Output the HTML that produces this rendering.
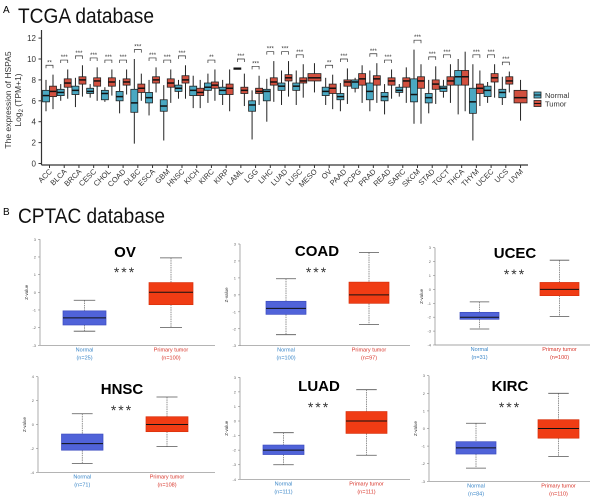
<!DOCTYPE html>
<html><head><meta charset="utf-8"><style>
html,body{margin:0;padding:0;background:#fff;}
svg{display:block;font-family:"Liberation Sans",sans-serif;}
</style></head><body>
<svg id="fig" width="610" height="499" viewBox="0 0 610 499">
<text x="3" y="13" font-size="10">A</text>
<text x="18" y="23" font-size="21" textLength="136" lengthAdjust="spacingAndGlyphs" fill="#111">TCGA database</text>
<text x="3" y="215" font-size="10">B</text>
<text x="18" y="223" font-size="21" textLength="147" lengthAdjust="spacingAndGlyphs" fill="#111">CPTAC database</text>
<g id="pa"></g>
<g id="pb"></g>
</svg>
<script>
// ===== Panel A data =====
const cats = ["ACC","BLCA","BRCA","CESC","CHOL","COAD","DLBC","ESCA","GBM","HNSC","KICH","KIRC","KIRP","LAML","LGG","LIHC","LUAD","LUSC","MESO","OV","PAAD","PCPG","PRAD","READ","SARC","SKCM","STAD","TGCT","THCA","THYM","UCEC","UCS","UVM"];
const nMed = [6.5,6.8,7.0,6.9,6.7,6.4,5.8,6.3,5.5,7.2,7.0,7.3,7.0,9.1,5.6,6.9,7.4,7.4,null,6.9,6.4,7.8,6.9,6.4,7.0,6.6,6.3,7.2,8.3,5.9,7.0,6.8,null];
const nQ1 = [5.9,6.5,6.6,6.7,6.1,6.0,4.9,5.8,5.0,6.9,6.5,7.0,6.6,9.05,5.0,6.0,7.0,7.0,null,6.5,6.1,7.2,6.1,6.0,6.8,5.9,5.8,6.9,7.5,4.8,6.4,6.3,null];
const nQ3 = [7.0,7.1,7.4,7.2,7.0,6.9,7.1,6.8,6.1,7.5,7.4,7.7,7.3,9.15,6.0,7.1,7.7,7.7,null,7.3,6.7,8.0,7.7,6.8,7.3,8.1,6.7,7.4,8.9,7.2,7.4,7.1,null];
const nLo = [5.0,6.0,5.4,6.3,5.9,4.8,1.9,4.6,2.2,6.2,5.3,5.8,5.6,9.1,2.3,4.0,5.6,5.6,null,5.6,5.0,6.8,5.0,4.7,6.4,3.8,4.8,6.3,4.7,2.2,5.8,5.6,null];
const nHi = [8.0,7.6,8.2,7.6,7.3,8.0,10.0,8.0,7.5,8.0,8.4,8.6,8.0,9.1,7.0,8.1,8.9,8.9,null,8.2,7.7,8.2,8.9,7.6,7.6,10.9,8.0,8.0,10.0,9.5,7.8,8.3,null];
const tMed = [6.9,7.7,8.0,7.9,7.8,7.8,7.2,8.0,7.7,8.0,6.8,7.5,7.2,7.0,6.9,7.8,8.2,7.9,8.2,7.2,7.8,8.1,8.1,7.9,7.9,7.9,7.6,7.9,8.3,7.2,8.2,7.9,6.3];
const tQ1 = [6.4,7.3,7.6,7.4,7.4,7.5,6.8,7.7,7.3,7.7,6.5,7.2,6.6,6.7,6.7,7.5,7.9,7.7,7.9,6.7,7.4,7.5,7.5,7.5,7.3,7.2,7.1,7.5,7.5,6.7,7.8,7.6,5.8];
const tQ3 = [7.4,8.1,8.3,8.2,8.2,8.1,7.6,8.3,8.1,8.4,7.2,7.8,7.6,7.3,7.2,8.2,8.5,8.2,8.6,7.6,8.0,8.6,8.4,8.2,8.2,8.3,8.0,8.3,8.9,7.6,8.6,8.3,7.0];
const tLo = [5.2,6.2,6.4,6.0,6.5,6.6,6.0,6.8,5.8,6.2,5.3,6.0,5.0,5.5,5.6,5.9,6.4,6.3,6.8,5.2,5.7,5.8,5.8,6.2,5.8,3.8,5.7,5.8,5.0,5.5,6.3,6.8,4.1];
const tHi = [8.5,9.0,9.4,9.2,9.0,9.0,8.6,9.2,9.0,9.4,8.0,9.0,9.0,8.6,8.4,9.8,9.8,9.5,9.6,8.5,9.1,9.4,9.6,9.0,9.2,9.5,9.3,9.5,10.7,8.9,9.5,8.8,8.0];
const sig = ["**","***","***","***","***","***","***","***","***","***","","**","","***","***","***","***","***","","**","***","","***","***","","***","***","***","","***","***","***",""];
const yTicksA = [0,2,4,6,8,10,12];

const NS="http://www.w3.org/2000/svg";
function mk(tag, attrs, parent){const e=document.createElementNS(NS,tag);for(const k in attrs)e.setAttribute(k,attrs[k]);parent.appendChild(e);return e;}

const pa=document.getElementById('pa');
const yA=v=>163.5-v*10.45;
const xA=i=>49.5+i*14.72;
const NCOL="#4aa8c2", TCOL="#d2503f";
let ax=mk('line',{x1:41.5,y1:30,x2:41.5,y2:165,stroke:"#333","stroke-width":1.2},pa);

ax=mk('line',{x1:41.5,y1:165,x2:528,y2:165,stroke:"#333","stroke-width":1.2},pa);

yTicksA.forEach(v=>{
  const t=mk('text',{x:36,y:yA(v)+3,"font-size":8,"text-anchor":"end",fill:"#333"},pa);t.textContent=v;
  
  mk('line',{x1:38.5,x2:41.5,y1:yA(v),y2:yA(v),stroke:"#333"},pa);
});
const yt=mk('text',{transform:"translate(11,100) rotate(-90)","font-size":8.5,"text-anchor":"middle",fill:"#333"},pa);

yt.innerHTML='<tspan x="0" dy="0">The expression of HSPA5</tspan><tspan x="0" dy="10">Log<tspan font-size="6" dy="2">2</tspan><tspan dy="-2"> (TPM+1)</tspan></tspan>';
function boxA(x0,w,q1,med,q3,lo,hi,col,name){
  const g=mk('g',{},pa);
  
  const cx=x0+w/2;
  mk('line',{x1:cx,x2:cx,y1:yA(hi),y2:yA(lo),stroke:"#222","stroke-width":1},g);
  mk('rect',{x:x0,y:yA(q3),width:w,height:Math.max(1.5,yA(q1)-yA(q3)),fill:col,stroke:"#222","stroke-width":0.8},g);
  mk('line',{x1:x0,x2:x0+w,y1:yA(med),y2:yA(med),stroke:"#111","stroke-width":1.5},g);
}
cats.forEach((c,i)=>{
  const cx=xA(i);
  const hasN=nMed[i]!==null;
  if(hasN){
    boxA(cx-7,7,nQ1[i],nMed[i],nQ3[i],nLo[i],nHi[i],NCOL,'box-normal-'+c.toLowerCase());
    boxA(cx,7,tQ1[i],tMed[i],tQ3[i],tLo[i],tHi[i],TCOL,'box-tumor-'+c.toLowerCase());
  } else {
    boxA(cx-6.5,13,tQ1[i],tMed[i],tQ3[i],tLo[i],tHi[i],TCOL,'box-tumor-'+c.toLowerCase());
  }
  mk('line',{x1:cx,x2:cx,y1:165,y2:168,stroke:"#333"},pa);
  const lb=mk('text',{transform:`translate(${cx+3},172) rotate(-45)`,"font-size":7.5,"text-anchor":"end",fill:"#333"},pa);
  lb.textContent=c;
  
  if(sig[i]){
    const top=Math.max(hasN?nHi[i]:0,tHi[i])+0.9;
    const ys=yA(top);
    mk('path',{d:`M${cx-3.5},${ys+3}V${ys}H${cx+3.5}V${ys+3}`,fill:"none",stroke:"#333","stroke-width":0.7},pa);
    const s=mk('text',{x:cx,y:ys-1,"font-size":6,"text-anchor":"middle",fill:"#333"},pa);s.textContent=sig[i];
    
  }
});
const lg=mk('g',{},pa);
[["Normal",NCOL,95],["Tumor",TCOL,103.5]].forEach(([n,c,y])=>{
  const e=mk('g',{},lg);
  mk('rect',{x:534,y:y-3,width:7,height:6,fill:c,stroke:"#222","stroke-width":0.8},e);
  mk('line',{x1:534,x2:541,y1:y,y2:y,stroke:"#111"},e);
  const t=mk('text',{x:545,y:y+3,"font-size":7.5,fill:"#333"},e);t.textContent=n;
});

// ===== Panel B data =====
const bCats = ["OV","COAD","UCEC","HNSC","LUAD","KIRC"];
const bNormal = [[-2.2,-1.85,-1.45,-1.05,-0.45],[-2.35,-1.15,-0.8,-0.38,0.95],[-2.85,-2.15,-2.0,-1.65,-0.9],[-3.25,-2.15,-1.6,-0.8,0.9],[-3.0,-2.3,-2.0,-1.65,-0.8],[-2.25,-1.45,-1.1,-0.75,0.3]];
const bTumor = [[-2.0,-0.7,0,0.55,1.95],[-1.75,-0.5,0,0.75,2.5],[-1.95,-0.45,0,0.5,2.1],[-1.85,-0.6,0,0.65,2.3],[-2.35,-0.85,0,0.65,2.15],[-1.6,-0.55,0,0.5,2.0]];
const bNn = [25,100,31,71,111,84];
const bNt = [100,97,100,108,111,110];
const bTickTop = [3,3,3,4,3,3];
const bTickBot = [-3,-3,-4,-4,-4,-3];
const bTickStep = [1,1,1,2,1,1];
const geo=[
 {ax:40,top:239.3,bot:345.3,nx:[63,106],tx:[149,193],end:215,tx0:125,ty:257,sy:272},
 {ax:240,top:244,bot:345.7,nx:[266,306],tx:[349,389],end:410,tx0:317,ty:256,sy:272},
 {ax:435,top:247.7,bot:345,nx:[460,499],tx:[540,579],end:590,tx0:515,ty:258,sy:274},
 {ax:38,top:376.7,bot:472.3,nx:[61.5,103],tx:[146,188],end:215,tx0:122,ty:394,sy:410},
 {ax:240,top:377.3,bot:479.3,nx:[263,304],tx:[346,387],end:410,tx0:319,ty:391,sy:407},
 {ax:429,top:375.7,bot:481.3,nx:[456,496],tx:[538,579],end:590,tx0:510,ty:391,sy:407}
];
const pb=document.getElementById('pb');
bCats.forEach((c,i)=>{
  const G=geo[i];
  const g=mk('g',{},pb);
  const y=v=>G.top+(bTickTop[i]-v)*(G.bot-G.top)/(bTickTop[i]-bTickBot[i]);
  mk('line',{x1:G.ax,x2:G.ax,y1:G.top,y2:G.bot,stroke:"#888","stroke-width":0.7},g);
  mk('line',{x1:G.ax,x2:G.end,y1:G.bot,y2:G.bot,stroke:"#888","stroke-width":0.7},g);
  for(let v=bTickBot[i];v<=bTickTop[i];v+=bTickStep[i]){
    mk('line',{x1:G.ax-2,x2:G.ax,y1:y(v),y2:y(v),stroke:"#888","stroke-width":0.6},g);
    const t=mk('text',{x:G.ax-4,y:y(v)+1.5,"font-size":4,"text-anchor":"end",fill:"#666"},g);t.textContent=v;
    
  }
  const yl=mk('text',{transform:`translate(${G.ax-12},${(G.top+G.bot)/2}) rotate(-90)`,"font-size":4.5,"text-anchor":"middle",fill:"#333"},g);
  yl.textContent="Z-value";
  [[bNormal[i],G.nx,"#5063d9","#3c4cc0","normal"],[bTumor[i],G.tx,"#f03c14","#d8300c","tumor"]].forEach(([d,xs,f,s,nm])=>{
    const b=mk('g',{},g);
    const cx=(xs[0]+xs[1])/2, w=xs[1]-xs[0];
    mk('line',{x1:cx,x2:cx,y1:y(d[4]),y2:y(d[3]),stroke:"#666","stroke-width":0.7,"stroke-dasharray":"1.5,0.8"},b);
    mk('line',{x1:cx,x2:cx,y1:y(d[1]),y2:y(d[0]),stroke:"#666","stroke-width":0.7,"stroke-dasharray":"1.5,0.8"},b);
    mk('line',{x1:cx-w/4,x2:cx+w/4,y1:y(d[4]),y2:y(d[4]),stroke:"#555","stroke-width":0.8},b);
    mk('line',{x1:cx-w/4,x2:cx+w/4,y1:y(d[0]),y2:y(d[0]),stroke:"#555","stroke-width":0.8},b);
    mk('rect',{x:xs[0],y:y(d[3]),width:w,height:y(d[1])-y(d[3]),fill:f,stroke:s,"stroke-width":0.7},b);
    mk('line',{x1:xs[0],x2:xs[1],y1:y(d[2]),y2:y(d[2]),stroke:"#111","stroke-width":1},b);
  });
  const ncx=(G.nx[0]+G.nx[1])/2, tcx=(G.tx[0]+G.tx[1])/2;
  [[ncx,"Normal","(n="+bNn[i]+")","#3a86c8","label-normal"],[tcx,"Primary tumor","(n="+bNt[i]+")","#d8352a","label-tumor"]].forEach(([x,a,b2,col,nm])=>{
    const t=mk('text',{x:x,y:G.bot+6,"font-size":5.5,"text-anchor":"middle",fill:col},g);
    t.innerHTML=`<tspan x="${x}" dy="0">${a}</tspan><tspan x="${x}" dy="8">${b2}</tspan>`;
    
  });
  const tt=mk('text',{x:G.tx0,y:G.ty,"font-size":15,"font-weight":"bold","text-anchor":"middle",fill:"#000"},g);
  tt.textContent=c;
  const st=mk('text',{x:G.tx0,y:G.sy+5,"font-size":14,"text-anchor":"middle",fill:"#333","letter-spacing":"2"},g);
  st.textContent="***";
});
</script>
</body></html>
